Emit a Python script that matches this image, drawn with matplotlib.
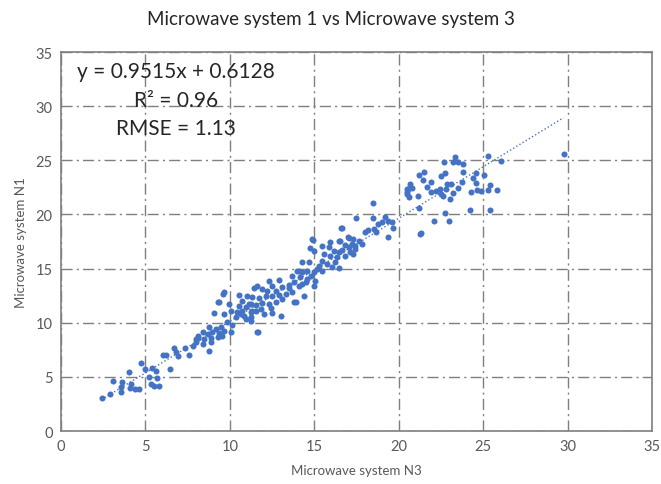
import matplotlib

matplotlib.use("Agg")
import matplotlib.pyplot as plt
import numpy as np

# readings from the picture (N3 on x, N1 on y)
x_n3 = [
    2.40, 2.93, 3.08, 3.54, 3.58, 3.63, 4.03, 4.07, 4.17, 4.36, 4.62, 4.71, 4.95, 5.20, 5.34,
    5.40, 5.60, 5.70, 5.50, 5.83, 6.03, 6.23, 6.48, 6.72, 6.82, 6.91, 7.37, 7.56, 8.00, 8.09,
    7.80, 8.00, 8.39, 8.88, 8.78, 8.09, 8.49, 8.88, 9.27, 9.56, 8.39, 8.68, 8.97, 9.37, 9.66,
    9.47, 9.17, 8.78, 10.06, 11.63, 10.12, 9.86, 10.35, 10.94, 11.24, 9.07, 9.66, 10.06, 10.45, 10.65,
    11.24, 11.53, 9.33, 9.96, 10.74, 11.24, 9.62, 10.55, 11.04, 9.66, 9.27, 11.69,
    10.84, 11.24, 12.02, 12.51, 13.01, 10.74, 10.94, 11.33, 11.83, 12.42, 10.55, 11.14, 11.53, 11.92,
    12.32, 12.71, 13.10, 13.89, 14.38, 11.33, 11.73, 12.12, 12.51, 12.90, 13.30, 13.69, 13.49, 13.10,
    12.71, 12.22, 11.92, 11.63, 11.43, 12.51, 12.90, 12.32, 14.08, 14.48, 14.08,
    13.49, 13.79, 14.28, 14.97, 13.69, 14.18, 14.57, 14.83, 15.07, 13.98, 14.28, 14.57, 14.97, 15.16,
    15.46, 14.28, 14.67, 15.46, 15.75, 16.25, 16.05, 15.26, 16.44, 15.56, 15.95, 16.34, 16.84, 17.13,
    17.32, 14.77, 14.97, 15.46, 15.85, 16.15, 16.44, 16.64, 17.03, 17.22, 17.42, 14.91, 15.95, 16.44,
    16.99, 16.60, 14.87, 13.79,
    16.54, 16.84, 17.42, 17.03, 17.32, 17.62, 17.81, 18.01, 18.17, 18.56, 18.64, 19.39, 18.80, 18.99,
    19.68, 19.19, 19.39, 19.58, 16.64, 17.46, 18.50, 18.46, 20.47, 20.57,
    23.32, 23.22, 23.51, 23.81, 22.67, 25.28, 26.03, 21.20, 21.51, 21.45, 21.90, 22.49, 22.73, 23.81,
    23.75, 24.55, 25.04, 24.40, 24.59, 20.67, 20.47, 20.76, 20.47, 20.61, 21.12, 21.65, 21.94, 22.18,
    22.43, 22.53, 22.63, 22.88, 23.08, 22.82, 23.22, 23.06, 23.51, 24.30, 24.65, 24.85, 25.28, 25.38,
    25.81, 21.20, 24.20, 25.38, 22.73, 22.08, 22.98, 21.29, 21.31,
    29.76,
]
y_n1 = [
    3.05, 3.42, 4.65, 3.63, 4.03, 4.50, 5.42, 3.94, 4.34, 3.88, 3.88, 6.25, 5.72, 4.96, 4.34,
    5.79, 5.57, 4.87, 4.18, 4.18, 7.02, 7.02, 5.72, 7.63, 7.27, 6.95, 7.63, 7.02, 8.50, 8.80,
    7.88, 8.19, 8.03, 8.19, 7.42, 8.56, 8.50, 8.56, 8.65, 8.80, 9.17, 8.96, 9.11, 9.05, 9.26,
    9.57, 9.42, 9.57, 9.17, 9.11, 9.79, 10.04, 10.50, 10.34, 10.19, 10.90, 10.80, 11.11, 10.96, 10.80,
    10.96, 11.11, 11.88, 11.73, 12.03, 11.73, 12.65, 12.56, 12.49, 12.80, 11.88, 9.17,
    10.65, 10.50, 10.80, 10.90, 10.65, 11.11, 11.42, 11.11, 11.27, 11.33, 11.57, 11.73, 11.63, 11.82,
    11.73, 11.94, 12.19, 11.88, 12.49, 12.34, 12.25, 12.44, 12.49, 12.56, 12.65, 12.81, 13.17, 13.27,
    12.95, 12.95, 13.11, 13.36, 13.17, 13.42, 13.97, 13.88, 13.36, 13.73, 14.80,
    13.48, 13.73, 13.57, 13.42, 14.34, 14.19, 14.03, 14.34, 13.88, 14.80, 14.65, 14.80, 14.65, 14.96,
    14.80, 15.63, 15.58, 15.72, 15.42, 15.58, 15.12, 15.26, 15.02, 16.34, 16.19, 16.04, 16.19, 16.50,
    16.34, 16.87, 16.65, 17.11, 16.96, 16.65, 16.50, 16.74, 16.96, 17.27, 16.80, 17.67, 17.42, 17.57,
    17.89, 18.72, 17.73, 11.88,
    17.57, 17.17, 17.11, 17.80, 17.73, 17.57, 17.27, 18.35, 18.59, 18.65, 18.35, 17.89, 19.11, 19.27,
    18.72, 19.73, 19.42, 19.27, 18.72, 19.64, 19.64, 21.05, 22.04, 22.35,
    25.27, 24.81, 24.87, 24.65, 24.81, 25.42, 24.96, 23.64, 23.89, 23.20, 22.96, 23.51, 23.79, 23.89,
    23.02, 23.79, 23.64, 23.33, 22.90, 22.81, 22.35, 22.41, 21.88, 21.57, 21.73, 22.50, 22.10, 22.19,
    22.35, 21.88, 21.67, 22.81, 22.81, 22.35, 21.98, 21.42, 22.41, 22.04, 22.28, 22.19, 22.28, 22.72,
    22.28, 20.59, 20.43, 20.41, 20.13, 19.42, 19.42, 18.19, 18.25,
    25.58,
]
slope, intercept = 0.9515, 0.6128
eq_lines = ["y = 0.9515x + 0.6128", "R² = 0.96", "RMSE = 1.13"]

BLUE = "#4472C4"
GRID = "#7f7f7f"
TXT = "#595959"
plt.rcParams["font.family"] = ["Lato", "DejaVu Sans"]

fig = plt.figure(figsize=(6.61, 4.85), dpi=100)
ax = fig.add_axes([61 / 661, 1 - 432 / 485, (652 - 61) / 661, (432 - 53) / 485])

ax.scatter(x_n3, y_n1, s=19, color=BLUE, zorder=3, linewidths=0)
xs = np.array([min(x_n3), max(x_n3)])
ax.plot(xs, slope * xs + intercept, ":", color=BLUE, lw=1, zorder=2)

ax.set_xlim(0, 35)
ax.set_ylim(0, 35)
ax.set_xticks(range(0, 36, 5))
ax.set_yticks(range(0, 36, 5))
ax.grid(True, ls="-.", color=GRID, lw=1, dashes=(8, 3, 1.5, 3))
ax.set_axisbelow(True)
for sp in ax.spines.values():
    sp.set_color(GRID)
    sp.set_linewidth(1.2)
ax.tick_params(length=0, labelsize=10.5, labelcolor=TXT, pad=6)

ax.set_xlabel("Microwave system N3", fontsize=9.5, color=TXT, labelpad=8)
ax.set_ylabel("Microwave system N1", fontsize=9.5, color=TXT, labelpad=6)
fig.text(0.5, 1 - 20 / 485, "Microwave system 1 vs Microwave system 3",
         ha="center", va="center", fontsize=13.5, color="#262626")

for i, line in enumerate(eq_lines):
    ax.text(6.8, 33.2 - i * 2.6, line, ha="center", va="center",
            fontsize=15, color="#262626", zorder=4)

fig.savefig("out.png", dpi=100)
